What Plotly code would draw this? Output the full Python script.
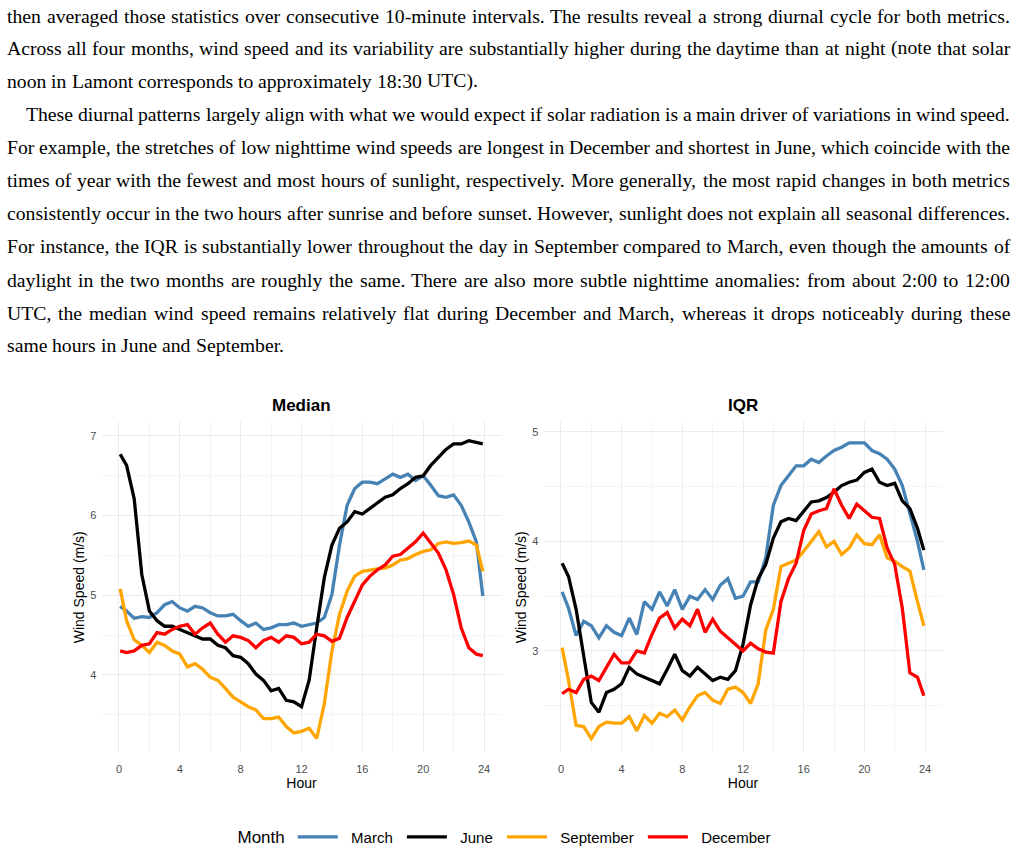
import plotly.graph_objects as go

W, H = 1017, 854

# ---------------- data ----------------
hours = [0.08, 0.5, 1.0, 1.5, 2.0, 2.5, 3.0, 3.5, 4.0, 4.5, 5.0, 5.5, 6.0, 6.5, 7.0, 7.5,
         8.0, 8.5, 9.0, 9.5, 10.0, 10.5, 11.0, 11.5, 12.0, 12.5, 13.0, 13.5, 14.0, 14.5,
         15.0, 15.5, 16.0, 16.5, 17.0, 17.5, 18.0, 18.5, 19.0, 19.5, 20.0, 20.5, 21.0,
         21.5, 22.0, 22.5, 23.0, 23.5, 23.92]

months = ["March", "June", "September", "December"]
colors = {"March": "#4682B4", "June": "#000000", "September": "#FFA500", "December": "#FF0000"}

median_march = [4.86, 4.80, 4.71, 4.73, 4.72, 4.78, 4.88, 4.92, 4.84, 4.80, 4.86, 4.84, 4.78,
                4.74, 4.74, 4.76, 4.68, 4.61, 4.65, 4.57, 4.59, 4.63, 4.63, 4.65, 4.61, 4.63,
                4.65, 4.72, 5.01, 5.63, 6.13, 6.34, 6.42, 6.42, 6.40, 6.46, 6.52, 6.48, 6.52,
                6.44, 6.50, 6.38, 6.25, 6.23, 6.26, 6.13, 5.92, 5.67, 4.99]
median_june = [6.77, 6.63, 6.21, 5.26, 4.80, 4.68, 4.61, 4.61, 4.57, 4.53, 4.49, 4.45, 4.45,
               4.37, 4.34, 4.24, 4.22, 4.14, 4.01, 3.93, 3.80, 3.83, 3.68, 3.66, 3.60, 3.93,
               4.59, 5.22, 5.63, 5.84, 5.92, 6.05, 6.02, 6.09, 6.17, 6.23, 6.26, 6.34, 6.40,
               6.48, 6.50, 6.63, 6.73, 6.83, 6.90, 6.90, 6.94, 6.92, 6.90]
median_september = [5.08, 4.68, 4.44, 4.37, 4.28, 4.41, 4.37, 4.30, 4.26, 4.10, 4.14, 4.07,
                     3.97, 3.93, 3.83, 3.72, 3.66, 3.60, 3.56, 3.45, 3.45, 3.47, 3.35, 3.27,
                     3.29, 3.33, 3.20, 3.64, 4.30, 4.76, 5.05, 5.24, 5.30, 5.32, 5.33, 5.34,
                     5.38, 5.44, 5.46, 5.51, 5.55, 5.57, 5.65, 5.67, 5.65, 5.66, 5.68, 5.63, 5.30]
median_december = [4.30, 4.28, 4.30, 4.37, 4.39, 4.53, 4.51, 4.57, 4.61, 4.63, 4.51, 4.59,
                   4.65, 4.51, 4.41, 4.49, 4.47, 4.43, 4.34, 4.43, 4.47, 4.41, 4.49, 4.47,
                   4.39, 4.41, 4.51, 4.49, 4.42, 4.46, 4.72, 4.93, 5.13, 5.24, 5.32, 5.38,
                   5.49, 5.51, 5.59, 5.67, 5.78, 5.65, 5.53, 5.32, 5.01, 4.59, 4.34, 4.26, 4.24]

iqr_march = [3.54, 3.39, 3.14, 3.27, 3.23, 3.12, 3.23, 3.17, 3.14, 3.30, 3.15, 3.45, 3.38,
             3.54, 3.41, 3.56, 3.38, 3.50, 3.47, 3.56, 3.47, 3.60, 3.66, 3.48, 3.50, 3.63,
             3.63, 3.85, 4.33, 4.51, 4.60, 4.69, 4.69, 4.75, 4.72, 4.78, 4.83, 4.86, 4.90,
             4.90, 4.90, 4.83, 4.80, 4.75, 4.66, 4.51, 4.24, 4.00, 3.74]
iqr_june = [3.80, 3.68, 3.38, 2.95, 2.53, 2.44, 2.62, 2.65, 2.70, 2.85, 2.79, 2.76, 2.73,
            2.70, 2.83, 2.97, 2.82, 2.77, 2.85, 2.79, 2.73, 2.76, 2.74, 2.82, 3.06, 3.42,
            3.66, 3.79, 4.03, 4.18, 4.21, 4.19, 4.27, 4.36, 4.37, 4.40, 4.45, 4.51, 4.54,
            4.56, 4.63, 4.66, 4.54, 4.51, 4.53, 4.37, 4.30, 4.12, 3.92]
iqr_september = [3.03, 2.73, 2.32, 2.31, 2.20, 2.31, 2.35, 2.34, 2.34, 2.40, 2.27, 2.41, 2.34,
                 2.43, 2.40, 2.46, 2.37, 2.49, 2.59, 2.62, 2.55, 2.52, 2.65, 2.67, 2.62, 2.52,
                 2.70, 3.19, 3.38, 3.77, 3.80, 3.83, 3.91, 4.00, 4.09, 3.95, 4.00, 3.88, 3.94,
                 4.06, 3.98, 3.97, 4.06, 3.85, 3.82, 3.77, 3.73, 3.45, 3.23]
iqr_december = [2.61, 2.65, 2.62, 2.74, 2.77, 2.73, 2.85, 2.97, 2.89, 2.89, 3.00, 2.98, 3.15,
                3.30, 3.35, 3.21, 3.29, 3.23, 3.38, 3.17, 3.29, 3.18, 3.12, 3.06, 3.00, 3.07,
                3.02, 2.99, 2.98, 3.45, 3.66, 3.80, 4.10, 4.25, 4.28, 4.30, 4.48, 4.33, 4.21,
                4.34, 4.28, 4.22, 4.21, 3.94, 3.79, 3.39, 2.80, 2.76, 2.59]

median_data = {"March": median_march, "June": median_june,
               "September": median_september, "December": median_december}
iqr_data = {"March": iqr_march, "June": iqr_june,
            "September": iqr_september, "December": iqr_december}

x_ticks = [0, 4, 8, 12, 16, 20, 24]
panel_titles = ["Median", "IQR"]
y_title = "Wind Speed (m/s)"
x_title = "Hour"
legend_title = "Month"

paragraph_lines = [
    ("then averaged those statistics over consecutive 10-minute intervals. The results reveal a strong diurnal cycle for both metrics.", False, True),
    ("Across all four months, wind speed and its variability are substantially higher during the daytime than at night (note that solar", False, True),
    ("noon in Lamont corresponds to approximately 18:30 UTC).", False, False),
    ("These diurnal patterns largely align with what we would expect if solar radiation is a main driver of variations in wind speed.", True, True),
    ("For example, the stretches of low nighttime wind speeds are longest in December and shortest in June, which coincide with the", False, True),
    ("times of year with the fewest and most hours of sunlight, respectively. More generally, the most rapid changes in both metrics", False, True),
    ("consistently occur in the two hours after sunrise and before sunset. However, sunlight does not explain all seasonal differences.", False, True),
    ("For instance, the IQR is substantially lower throughout the day in September compared to March, even though the amounts of", False, True),
    ("daylight in the two months are roughly the same. There are also more subtle nighttime anomalies: from about 2:00 to 12:00", False, True),
    ("UTC, the median wind speed remains relatively flat during December and March, whereas it drops noticeably during these", False, True),
    ("same hours in June and September.", False, False),
]

# ---------------- figure ----------------
SANS = "Liberation Sans, Arial, sans-serif"
SERIF = "Liberation Serif, Times New Roman, serif"
NB = "\u00a0"

fig = go.Figure()
for m in months:
    fig.add_trace(go.Scatter(x=hours, y=median_data[m], mode="lines",
                             name=NB + NB + m + NB,
                             legendgroup=m, showlegend=True,
                             line=dict(color=colors[m], width=3.3),
                             xaxis="x", yaxis="y"))
for m in months:
    fig.add_trace(go.Scatter(x=hours, y=iqr_data[m], mode="lines", name=m,
                             legendgroup=m, showlegend=False,
                             line=dict(color=colors[m], width=3.3),
                             xaxis="x2", yaxis="y2"))

def px_x(p):
    return p / W

def px_y(p):
    return 1 - p / H

grid_major = "#EBEBEB"
grid_minor = "#F4F4F4"

def xaxis_cfg(dom, anchor):
    return dict(domain=dom, anchor=anchor, range=[-1.15, 25.15], tickmode="array",
                tickvals=x_ticks, ticktext=[str(v) for v in x_ticks],
                showgrid=True, gridcolor=grid_major, gridwidth=1.1,
                minor=dict(tickmode="array", tickvals=[2, 6, 10, 14, 18, 22],
                           showgrid=True, gridcolor=grid_minor, gridwidth=1),
                zeroline=False, showline=False, ticks="outside", ticklen=6,
                tickcolor="rgba(0,0,0,0)",
                tickfont=dict(family=SANS, size=11, color="#4D4D4D"),
                title=dict(text=x_title, font=dict(family=SANS, size=14, color="black"),
                           standoff=4))

def yaxis_cfg(dom, anchor, rng, ticks, minors):
    return dict(domain=dom, anchor=anchor, range=rng, tickmode="array",
                tickvals=ticks, ticktext=[str(v) for v in ticks],
                showgrid=True, gridcolor=grid_major, gridwidth=1.1,
                minor=dict(tickmode="array", tickvals=minors,
                           showgrid=True, gridcolor=grid_minor, gridwidth=1),
                zeroline=False, showline=False, ticks="outside", ticklen=2,
                tickcolor="rgba(0,0,0,0)",
                tickfont=dict(family=SANS, size=11, color="#4D4D4D"),
                title=dict(text=y_title, font=dict(family=SANS, size=14, color="black"),
                           standoff=2))

ydom = [px_y(756), px_y(424)]
fig.update_layout(
    width=W, height=H, margin=dict(l=0, r=0, t=0, b=0),
    paper_bgcolor="white", plot_bgcolor="white",
    xaxis=xaxis_cfg([px_x(101.5), px_x(501.5)], "y"),
    yaxis=yaxis_cfg(ydom, "x", [3.025, 7.175], [4, 5, 6, 7], [3.5, 4.5, 5.5, 6.5]),
    xaxis2=xaxis_cfg([px_x(543.5), px_x(942.5)], "y2"),
    yaxis2=yaxis_cfg(ydom, "x2", [2.073, 5.09], [3, 4, 5], [2.5, 3.5, 4.5]),
    legend=dict(orientation="h", x=px_x(508), xanchor="center", y=px_y(841),
                yanchor="middle", font=dict(family=SANS, size=15, color="black"),
                title=dict(text=legend_title, font=dict(family=SANS, size=17, color="black"),
                           side="left"),
                itemwidth=40, bgcolor="rgba(0,0,0,0)"),
    showlegend=True,
)

annotations = []
for title, cx in zip(panel_titles, [301.5, 743]):
    annotations.append(dict(text="<b>%s</b>" % title, x=px_x(cx), y=px_y(407),
                            xref="paper", yref="paper", xanchor="center", yanchor="middle",
                            showarrow=False, font=dict(family=SANS, size=17, color="black")))

# ---- justified paragraph text (Times metrics per 1000 em) ----
TW = {' ': 250, 'a': 444, 'b': 500, 'c': 444, 'd': 500, 'e': 444, 'f': 333, 'g': 500,
      'h': 500, 'i': 278, 'j': 278, 'k': 500, 'l': 278, 'm': 778, 'n': 500, 'o': 500,
      'p': 500, 'q': 500, 'r': 333, 's': 389, 't': 278, 'u': 500, 'v': 500, 'w': 722,
      'x': 500, 'y': 500, 'z': 444,
      'A': 722, 'B': 667, 'C': 667, 'D': 722, 'E': 611, 'F': 556, 'G': 722, 'H': 722,
      'I': 333, 'J': 389, 'K': 722, 'L': 611, 'M': 889, 'N': 722, 'O': 722, 'P': 556,
      'Q': 722, 'R': 667, 'S': 556, 'T': 611, 'U': 722, 'V': 722, 'W': 944, 'X': 722,
      'Y': 722, 'Z': 611, '.': 250, ',': 250, ':': 278, ';': 278, '-': 333, '(': 333,
      ')': 333, '/': 278}
for d in "0123456789":
    TW[d] = 500

FS = 19.7
LEFT, RIGHT, INDENT = 6, 1009, 19
line_y = [16, 48, 81, 115, 148, 181, 214, 247, 281, 314, 347]

def word_w(wd):
    return sum(TW.get(c, 500) for c in wd) / 1000.0 * FS

for (text, indent, justify), yc in zip(paragraph_lines, line_y):
    words = text.split(" ")
    widths = [word_w(w) for w in words]
    start = LEFT + (INDENT if indent else 0)
    if justify and len(words) > 1:
        gap = (RIGHT - start - sum(widths)) / (len(words) - 1)
    else:
        gap = 0.25 * FS
    pos = start
    for w, wd in zip(words, widths):
        annotations.append(dict(text=w, x=px_x(pos - 1), y=px_y(yc), xref="paper",
                                yref="paper", xanchor="left", yanchor="middle",
                                showarrow=False,
                                font=dict(family=SERIF, size=FS, color="black")))
        pos += wd + gap

fig.update_layout(annotations=annotations)
fig.write_html("out.html")
